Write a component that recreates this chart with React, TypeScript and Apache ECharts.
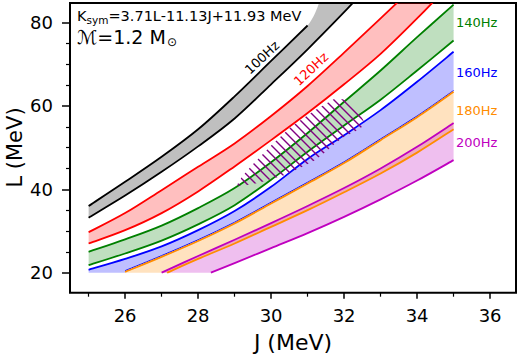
import React, { useEffect, useRef } from "react";
import * as echarts from "echarts";

type P = [number, number];

// axis ticks
const jMajorTicks = [26, 28, 30, 32, 34, 36];
const jMinorTicks = [25, 27, 29, 31, 33, 35];
const lMajorTicks = [20, 40, 60, 80];
const lMinorTicks = [25, 30, 35, 45, 50, 55, 65, 70, 75];

const freqLabels = ["100Hz", "120Hz", "140Hz", "160Hz", "180Hz", "200Hz"];
const titleMain = "=3.71L-11.13J+11.93 MeV";
const massText = "\u2133=1.2 M";

// band curves: [J, L]
const upper100: P[] = [[25, 36.0], [26, 41.8], [27, 47.8], [28, 54.4], [29, 62.3], [30, 70.8], [31, 79.3]];
const upper100Tail: P[] = [[31.35, 85.5]];
const lower100: P[] = [[25, 33.2], [26, 38.5], [27, 44.2], [28, 50.3], [29, 57.0], [30, 65.2], [31, 73.6], [32, 82.5], [32.5, 87.2]];

const upper120: P[] = [[25, 29.7], [26, 34.3], [27, 39.8], [28, 45.4], [29, 51.0], [30, 57.6], [31, 64.8], [32, 72.8], [33, 81.0], [33.6, 86.0]];
const lower120: P[] = [[25, 27.0], [26, 30.2], [27, 34.3], [28, 39.5], [29, 45.5], [30, 51.8], [31, 58.3], [32, 65.2], [33, 72.5], [34, 81.0], [34.5, 85.5]];

const upper140: P[] = [[25, 25.0], [26, 28.0], [27, 31.3], [28, 35.5], [29, 40.3], [30, 46.5], [31, 53.5], [32, 61.0], [33, 68.5], [34, 76.5], [35, 84.3]];
const lower140: P[] = [[25, 21.8], [26, 24.6], [27, 27.7], [28, 31.6], [29, 36.2], [30, 42.3], [31, 49.0], [32, 55.3], [33, 61.5], [34, 68.5], [35, 75.7]];

const upper160: P[] = [[25, 20.7], [26, 23.3], [27, 26.3], [28, 30.2], [29, 34.8], [30, 40.6], [31, 47.3], [32, 53.0], [33, 59.0], [34, 65.8], [35, 73.0]];
const floor160: P[] = [[25, 20], [26, 20]];
const lower160: P[] = [[26, 20.5], [27, 24.1], [28, 27.9], [29, 32.1], [30, 36.9], [31, 41.7], [32, 46.6], [33, 52.1], [34, 57.6], [35, 63.7]];

const upper180: P[] = [[26, 20.2], [27, 23.8], [28, 27.6], [29, 31.8], [30, 36.6], [31, 41.4], [32, 46.3], [33, 51.8], [34, 57.3], [35, 63.4]];
const floor180: P[] = [[26, 20]];
const lower180: P[] = [[27.15, 20.0], [28, 23.3], [29, 27.0], [30, 31.0], [31, 35.0], [32, 39.3], [33, 43.8], [34, 48.8], [35, 54.4]];

const upper200: P[] = [[27, 20.0], [28, 24.0], [29, 27.9], [30, 31.9], [31, 36.0], [32, 40.3], [33, 45.0], [34, 50.2], [35, 55.9]];
const floor200: P[] = [[27, 20]];
const lower200: P[] = [[28.35, 20.0], [29, 22.3], [30, 25.9], [31, 29.5], [32, 33.4], [33, 37.6], [34, 42.1], [35, 47.0]];

// hatched constraint region
const hatchUpper: P[] = [[29.05, 40.8], [29.2, 43.0], [29.5, 46.0], [30.0, 50.5], [30.55, 55.0], [31.2, 59.0], [31.75, 61.8], [32.1, 61.5], [32.4, 59.0], [32.58, 55.5]];
const hatchLower: P[] = [[29.3, 41.0], [29.65, 41.5], [30.4, 43.5], [30.8, 45.2], [31.2, 47.0], [31.5, 49.0], [31.75, 51.0], [32.0, 52.6], [32.3, 53.9]];

const FONT = '"DejaVu Sans", "Noto Sans", sans-serif';

function measure(text: string, size: number): number {
  const ctx = document.createElement("canvas").getContext("2d");
  if (!ctx) return text.length * size * 0.6;
  ctx.font = `${size}px "DejaVu Sans"`;
  return ctx.measureText(text).width;
}

// smooth (Catmull-Rom) path through pixel points
function smoothPath(pts: number[][], start: boolean): string {
  let d = (start ? "M" : "L") + pts[0][0] + "," + pts[0][1];
  const n = pts.length;
  for (let i = 0; i < n - 1; i++) {
    const p0 = pts[Math.max(i - 1, 0)];
    const p1 = pts[i];
    const p2 = pts[i + 1];
    const p3 = pts[Math.min(i + 2, n - 1)];
    const c1x = p1[0] + (p2[0] - p0[0]) / 6;
    const c1y = p1[1] + (p2[1] - p0[1]) / 6;
    const c2x = p2[0] - (p3[0] - p1[0]) / 6;
    const c2y = p2[1] - (p3[1] - p1[1]) / 6;
    d += `C${c1x},${c1y},${c2x},${c2y},${p2[0]},${p2[1]}`;
  }
  return d;
}

function bandSeries(upper: P[], lower: P[], floor: P[], fill: string, z: number) {
  return {
    type: "custom",
    coordinateSystem: "cartesian2d",
    clip: true,
    silent: true,
    z,
    data: upper,
    renderItem: (params: any, api: any) => {
      if (params.dataIndex !== 0) return null;
      const up = upper.map((p) => api.coord(p));
      const lo = lower.map((p) => api.coord(p)).reverse();
      const fl = floor.map((p) => api.coord(p)).reverse();
      let d = smoothPath(up, true) + smoothPath(lo, false);
      fl.forEach((p: number[]) => {
        d += "L" + p[0] + "," + p[1];
      });
      d += "Z";
      return { type: "path", shape: { pathData: d }, style: { fill, stroke: "none" } };
    },
  };
}

function curveSeries(data: P[], color: string, width: number, z = 3) {
  return {
    type: "custom",
    coordinateSystem: "cartesian2d",
    clip: true,
    silent: true,
    z,
    data,
    renderItem: (params: any, api: any) => {
      if (params.dataIndex !== 0) return null;
      const pts = data.map((p) => api.coord(p));
      return {
        type: "path",
        shape: { pathData: smoothPath(pts, true) },
        style: { fill: "none", stroke: color, lineWidth: width, lineJoin: "round" },
      };
    },
  };
}

function hatchSeries(upper: P[], lower: P[], fill: any, z: number) {
  const poly = [...upper, ...lower.slice().reverse()];
  return {
    type: "custom",
    coordinateSystem: "cartesian2d",
    clip: true,
    silent: true,
    z,
    data: poly,
    renderItem: (params: any, api: any) => {
      if (params.dataIndex !== 0) return null;
      const pts = poly.map((p) => api.coord(p));
      return { type: "polygon", shape: { points: pts }, style: { fill, stroke: "none" } };
    },
  };
}

export default function App() {
  const ref = useRef<HTMLDivElement>(null);

  useEffect(() => {
    if (!ref.current) return;
    const chart = echarts.init(ref.current, null, { renderer: "svg" });

    const hatchSvg =
      "<svg xmlns='http://www.w3.org/2000/svg' width='9' height='9'>" +
      "<path d='M0,0L9,9M-2,7L2,11M7,-2L11,2' stroke='#800080' stroke-width='1.4' fill='none'/></svg>";
    const hatchFill = {
      image: "data:image/svg+xml;charset=utf-8," + encodeURIComponent(hatchSvg),
      repeat: "repeat",
      imageWidth: 9,
      imageHeight: 9,
    };

    const kW = measure("K", 14.5);
    const symW = measure("sym", 10.5);
    const massW = measure(massText, 19);

    const lw = 1.8;
    const option: any = {
      animation: false,
      grid: {
        left: 70,
        right: 3,
        top: 3,
        bottom: 64.3,
        show: true,
        borderColor: "#000",
        borderWidth: 2,
        backgroundColor: "transparent",
        containLabel: false,
        outerBoundsMode: "none",
      },
      xAxis: [
        {
          type: "value",
          min: 24.49,
          max: 36.71,
          position: "bottom",
          axisLine: { show: false },
          splitLine: { show: false },
          axisTick: { show: true, customValues: jMajorTicks, length: 6, lineStyle: { color: "#000", width: 1.5 } },
          axisLabel: { customValues: jMajorTicks, fontSize: 18, color: "#000", margin: 14, fontFamily: FONT },
          name: "J (MeV)",
          nameLocation: "middle",
          nameGap: 39,
          nameMoveOverlap: false,
          nameTextStyle: { fontSize: 22, color: "#000", fontFamily: FONT },
        },
        {
          type: "value",
          min: 24.49,
          max: 36.71,
          position: "bottom",
          axisLine: { show: false },
          splitLine: { show: false },
          axisTick: { show: true, customValues: jMinorTicks, length: 4, lineStyle: { color: "#000", width: 1.2 } },
          axisLabel: { show: false },
        },
      ],
      yAxis: [
        {
          type: "value",
          min: 15.2,
          max: 84.7,
          position: "left",
          axisLine: { show: false },
          splitLine: { show: false },
          axisTick: { show: true, customValues: lMajorTicks, length: 8, lineStyle: { color: "#000", width: 1.5 } },
          axisLabel: { customValues: lMajorTicks, fontSize: 18, color: "#000", margin: 17, fontFamily: FONT },
        },
        {
          type: "value",
          min: 15.2,
          max: 84.7,
          position: "left",
          axisLine: { show: false },
          splitLine: { show: false },
          axisTick: { show: true, customValues: lMinorTicks, length: 4, lineStyle: { color: "#000", width: 1.2 } },
          axisLabel: { show: false },
        },
      ],
      series: [
        bandSeries([...upper100, ...upper100Tail], lower100, [], "rgba(0,0,0,0.25)", 1),
        bandSeries(upper120, lower120, [], "rgba(255,0,0,0.25)", 1),
        bandSeries(upper140, lower140, [], "rgba(0,128,0,0.25)", 1),
        bandSeries(upper160, lower160, floor160, "rgba(0,0,255,0.25)", 1),
        bandSeries(upper180, lower180, floor180, "rgba(255,140,0,0.25)", 1),
        bandSeries(upper200, lower200, floor200, "rgba(191,0,191,0.25)", 1),
        curveSeries(upper100, "#000", lw),
        curveSeries(lower100, "#000", lw),
        curveSeries(upper120, "#ff0000", lw),
        curveSeries(lower120, "#ff0000", lw),
        curveSeries(upper140, "#008000", lw),
        curveSeries(lower140, "#008000", lw),
        curveSeries(upper160, "#0000ff", lw),
        curveSeries(lower160, "#0000ff", 1.0),
        curveSeries(upper180, "#ff8c00", lw),
        curveSeries(lower180, "#ff8c00", lw),
        curveSeries(upper200, "#bf00bf", lw),
        curveSeries(lower200, "#bf00bf", lw),
        hatchSeries(hatchUpper, hatchLower, hatchFill, 5),
      ],
      graphic: [
        { type: "text", x: 15, y: 147.5, rotation: Math.PI / 2, z: 10, style: { text: "L (MeV)", fontSize: 21, fontFamily: FONT, fill: "#000", align: "center", verticalAlign: "middle" } },
        { type: "text", x: 77, y: 15.5, z: 10, style: { text: "K", fontSize: 14.5, fontFamily: FONT, fill: "#000", align: "left", verticalAlign: "middle" } },
        { type: "text", x: 77 + kW, y: 19.5, z: 10, style: { text: "sym", fontSize: 10.5, fontFamily: FONT, fill: "#000", align: "left", verticalAlign: "middle" } },
        { type: "text", x: 77 + kW + symW, y: 15.5, z: 10, style: { text: titleMain, fontSize: 14.5, fontFamily: FONT, fill: "#000", align: "left", verticalAlign: "middle" } },
        { type: "text", x: 77, y: 36.5, z: 10, style: { text: massText, fontSize: 19, fontFamily: FONT, fill: "#000", align: "left", verticalAlign: "middle" } },
        { type: "text", x: 77 + massW + 1, y: 42, z: 10, style: { text: "\u2299", fontSize: 12, fontFamily: FONT, fill: "#000", align: "left", verticalAlign: "middle" } },
        { type: "text", x: 262, y: 57.5, rotation: (43 * Math.PI) / 180, z: 10, style: { text: freqLabels[0], fontSize: 13, fontFamily: FONT, fill: "#000", align: "center", verticalAlign: "middle" } },
        { type: "text", x: 311, y: 69, rotation: (43 * Math.PI) / 180, z: 10, style: { text: freqLabels[1], fontSize: 13, fontFamily: FONT, fill: "#ff0000", align: "center", verticalAlign: "middle" } },
        { type: "text", x: 456, y: 22, z: 10, style: { text: freqLabels[2], fontSize: 13, fontFamily: FONT, fill: "#008000", align: "left", verticalAlign: "middle" } },
        { type: "text", x: 456, y: 72, z: 10, style: { text: freqLabels[3], fontSize: 13, fontFamily: FONT, fill: "#0000ff", align: "left", verticalAlign: "middle" } },
        { type: "text", x: 456, y: 110, z: 10, style: { text: freqLabels[4], fontSize: 13, fontFamily: FONT, fill: "#ff8c00", align: "left", verticalAlign: "middle" } },
        { type: "text", x: 456, y: 142, z: 10, style: { text: freqLabels[5], fontSize: 13, fontFamily: FONT, fill: "#bf00bf", align: "left", verticalAlign: "middle" } },
      ],
    };

    chart.setOption(option);
    return () => chart.dispose();
  }, []);

  return (
    <div
      ref={ref}
      style={{ position: "fixed", left: 0, top: 0, width: 519, height: 357, background: "#fff" }}
    />
  );
}
